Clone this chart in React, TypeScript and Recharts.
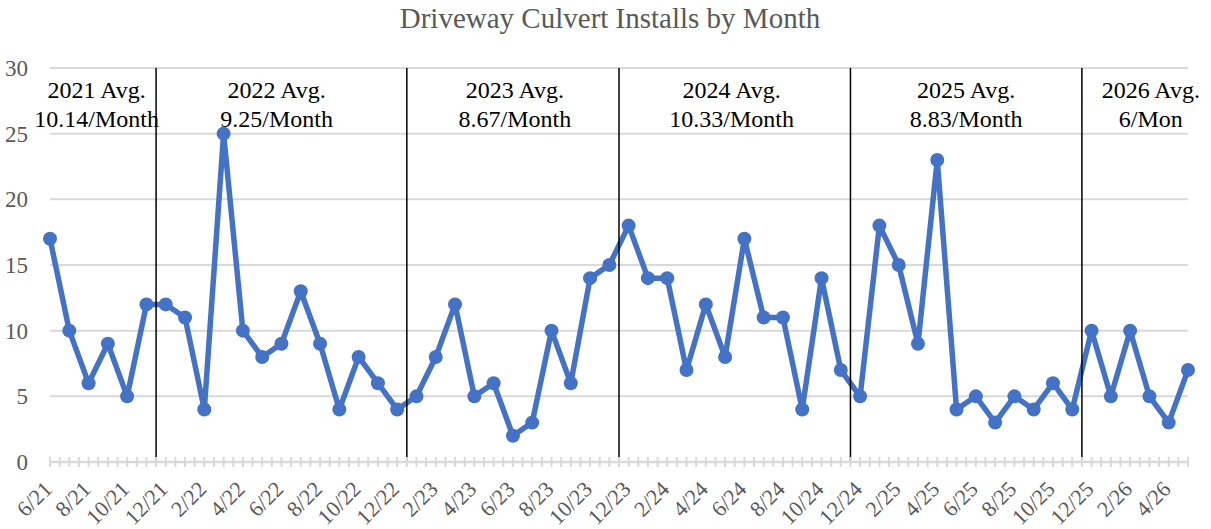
import { LineChart, Line, XAxis, YAxis, CartesianGrid, ReferenceLine } from "recharts";

const months = [
  "6/21", "7/21", "8/21", "9/21", "10/21", "11/21", "12/21",
  "1/22", "2/22", "3/22", "4/22", "5/22", "6/22", "7/22", "8/22", "9/22", "10/22", "11/22", "12/22",
  "1/23", "2/23", "3/23", "4/23", "5/23", "6/23", "7/23", "8/23", "9/23", "10/23", "11/23", "12/23",
  "1/24", "2/24", "3/24", "4/24", "5/24", "6/24", "7/24", "8/24", "9/24", "10/24", "11/24", "12/24",
  "1/25", "2/25", "3/25", "4/25", "5/25", "6/25", "7/25", "8/25", "9/25", "10/25", "11/25", "12/25",
  "1/26", "2/26", "3/26", "4/26", "5/26",
];

const installs = [
  17, 10, 6, 9, 5, 12, 12,
  11, 4, 25, 10, 8, 9, 13, 9, 4, 8, 6, 4,
  5, 8, 12, 5, 6, 2, 3, 10, 6, 14, 15, 18,
  14, 14, 7, 12, 8, 17, 11, 11, 4, 14, 7, 5,
  18, 15, 9, 23, 4, 5, 3, 5, 4, 6, 4, 10,
  5, 10, 5, 3, 7,
];

// hand-drawn year separators in the original (category index units)
const dividers = [5.5, 18.5, 29.5, 41.5, 53.5];

const avgTitles = ["2021 Avg.", "2022 Avg.", "2023 Avg.", "2024 Avg.", "2025 Avg.", "2026 Avg."];
const avgRates = ["10.14/Month", "9.25/Month", "8.67/Month", "10.33/Month", "8.83/Month", "6/Mon"];
const avgCenters = [2.42, 11.75, 24.1, 35.34, 47.5, 57.07];

const yTicks = [0, 5, 10, 15, 20, 25, 30];

const rows = months.map((m, i) => ({ idx: i, month: m, installs: installs[i] }));
const halfTicks = months.flatMap((_, i) => (i === 0 ? [0] : [i - 0.5, i]));

const FONT = "'Liberation Serif', 'Times New Roman', serif";
const GREY = "#595959";
const GRID = "#d9d9d9";
const TICK_SIZE = 5;
const TICK_MARGIN = 10;

function MonthTick(props: any) {
  const { x, y, payload } = props;
  const v = payload.value;
  const axisY = y - TICK_SIZE - TICK_MARGIN;
  const show = Number.isInteger(v) && v % 2 === 0;
  const tx = x - 2;
  const ty = y + 8;
  return (
    <g>
      <line x1={x} x2={x} y1={axisY - 5} y2={axisY + 5} stroke={GRID} strokeWidth={2} />
      {show && (
        <text
          x={tx}
          y={ty}
          dy="0.35em"
          textAnchor="end"
          transform={`rotate(-45 ${tx} ${ty})`}
          fill={GREY}
          fontFamily={FONT}
          fontSize={22}
        >
          {months[v]}
        </text>
      )}
    </g>
  );
}

function AvgLabel(props: any) {
  const { viewBox, title, rate } = props;
  const x = viewBox.x;
  const y = viewBox.y;
  return (
    <text textAnchor="middle" fill="#000" fontFamily={FONT} fontSize={24}>
      <tspan x={x} y={y + 30}>{title}</tspan>
      <tspan x={x} y={y + 59}>{rate}</tspan>
    </text>
  );
}

export default function App() {
  return (
    <div style={{ position: "absolute", left: 0, top: 0, width: 1211, height: 529, background: "#fff" }}>
      <div
        style={{
          position: "absolute",
          left: 0,
          top: 0,
          width: 1220,
          textAlign: "center",
          fontFamily: FONT,
          fontSize: 29,
          lineHeight: "36px",
          color: GREY,
        }}
      >
        Driveway Culvert Installs by Month
      </div>
      <LineChart
        width={1211}
        height={529}
        data={rows}
        margin={{ top: 68, right: 23, left: 0, bottom: 0 }}
      >
        <CartesianGrid vertical={false} stroke={GRID} strokeWidth={2} />
        <XAxis
          dataKey="idx"
          type="number"
          domain={[0, months.length - 1]}
          ticks={halfTicks}
          interval={0}
          height={67}
          tickSize={TICK_SIZE}
          tickMargin={TICK_MARGIN}
          tickLine={false}
          axisLine={{ stroke: GRID, strokeWidth: 2.5 }}
          tick={<MonthTick />}
        />
        <YAxis
          domain={[0, 30]}
          ticks={yTicks}
          width={50}
          axisLine={false}
          tickLine={false}
          tickSize={0}
          tickMargin={22}
          tick={{ fill: GREY, fontFamily: FONT, fontSize: 23 }}
        />
        <Line
          type="linear"
          dataKey="installs"
          stroke="#4472C4"
          strokeWidth={5.5}
          strokeLinejoin="round"
          strokeLinecap="round"
          dot={{ r: 7, fill: "#4472C4", stroke: "none" }}
          activeDot={false}
          isAnimationActive={false}
        />
        {dividers.map((d) => (
          <ReferenceLine key={d} x={d} stroke="#000" strokeWidth={1.5} />
        ))}
        {avgCenters.map((c, i) => (
          <ReferenceLine
            key={"a" + i}
            x={c}
            stroke="none"
            label={<AvgLabel title={avgTitles[i]} rate={avgRates[i]} />}
          />
        ))}
      </LineChart>
    </div>
  );
}
